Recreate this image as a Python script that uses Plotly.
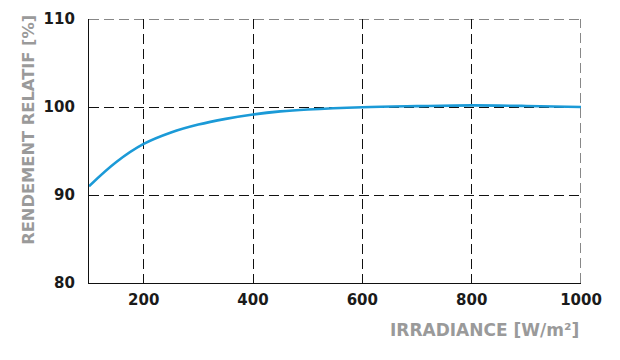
import plotly.graph_objects as go

irradiance = [100, 150, 200, 250, 300, 350, 400, 450, 500, 600, 700, 800, 900, 1000]
rendement = [91.0, 93.75, 95.8, 97.1, 98.0, 98.65, 99.15, 99.5, 99.72, 99.98, 100.1, 100.18, 100.12, 100.0]

x_ticks = [200, 400, 600, 800, 1000]
y_ticks = [80, 90, 100, 110]

fig = go.Figure()
fig.add_trace(go.Scatter(
    x=irradiance, y=rendement, mode="lines",
    line=dict(color="#1b9ad7", width=2.6, shape="spline", smoothing=1.0),
    hoverinfo="skip", showlegend=False))

tick_font = dict(family="DejaVu Sans", size=15, color="#1a1a1a", weight=700)
grid_color = "#111111"
grid_dash = "10px,5px"
grid = dict(showgrid=True, gridcolor=grid_color, gridwidth=1, griddash=grid_dash)

# gridlines at the range ends (plotly omits those automatically)
edge_line = dict(color=grid_color, width=1, dash=grid_dash)
shapes = [
    dict(type="line", xref="paper", yref="y", x0=0, x1=1,
         y0=y_ticks[-1], y1=y_ticks[-1], line=edge_line, layer="below"),
    dict(type="line", xref="x", yref="paper", x0=x_ticks[-1], x1=x_ticks[-1],
         y0=0, y1=1, line=edge_line, layer="below"),
]

fig.update_layout(
    width=620, height=360,
    margin=dict(l=81, r=47, t=11, b=85),
    paper_bgcolor="white", plot_bgcolor="white",
    xaxis=dict(range=[100, 1000], tickvals=x_ticks, ticks="", showline=True,
               linecolor="#111111", linewidth=1.2, zeroline=False, automargin=False,
               tickfont=tick_font, ticklabelstandoff=3, **grid),
    yaxis=dict(range=[80, 110], tickvals=y_ticks, ticks="", showline=True,
               linecolor="#111111", linewidth=1.2, zeroline=False, automargin=False,
               tickfont=tick_font, ticklabelstandoff=10, **grid),
    shapes=shapes,
    annotations=[
        dict(text="IRRADIANCE [W/m²]", xref="paper", yref="paper", x=1.0, y=-0.178,
             xanchor="right", yanchor="middle", showarrow=False,
             font=dict(family="DejaVu Sans", size=17, color="#9a9a9a", weight=700)),
        dict(text="RENDEMENT RELATIF [%]", xref="paper", yref="paper", x=-0.122, y=0.58,
             xanchor="center", yanchor="middle", showarrow=False, textangle=-90,
             font=dict(family="DejaVu Sans", size=16.3, color="#9a9a9a", weight=700)),
    ],
)

fig.write_html("out.html")
